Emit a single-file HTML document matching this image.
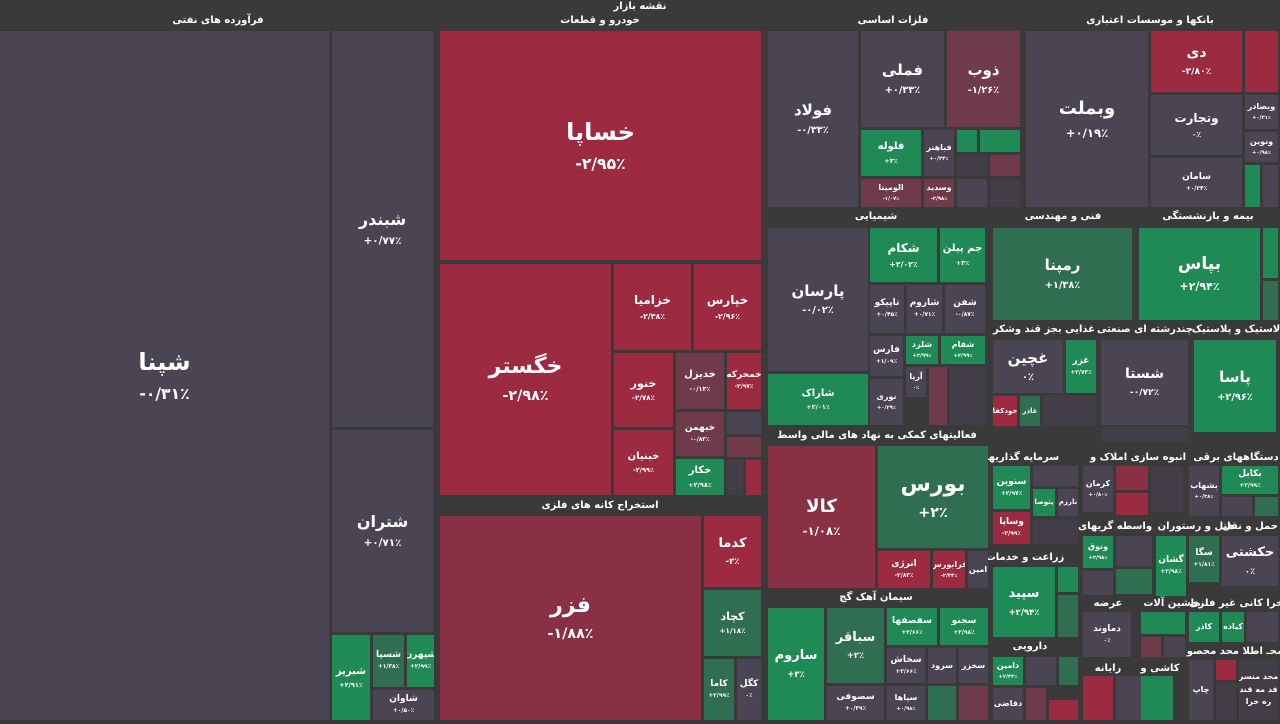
<!DOCTYPE html>
<html><head><meta charset="utf-8">
<style>
body{margin:0;width:1280px;height:724px;background:#3a3a3a;overflow:hidden;position:relative;font-family:"DejaVu Sans",sans-serif;color:#fff}
.c{position:absolute;display:flex;flex-direction:column;align-items:center;justify-content:center;overflow:hidden;font-weight:bold;line-height:1.25;text-align:center;white-space:nowrap}
.c b{display:block}
.c i{font-style:normal;display:block;font-size:0.65em;margin-top:.5em}
.G{background:#4b4553}.R{background:#9c2a40}.R2{background:#8a3044}.R3{background:#6f3a4a}.N{background:#1f8a55}.N2{background:#2f6e50}.D{background:#423d46}
.h{position:absolute;font-size:10px;font-weight:bold;color:#fff;white-space:nowrap;transform:translateX(-50%)}
</style></head><body>
<div class="h" style="left:640px;top:1px">نقشه بازار</div>
<div class="h" style="left:218px;top:15px">فرآورده های نفتی</div>
<div class="h" style="left:600px;top:15px">خودرو و قطعات</div>
<div class="h" style="left:893px;top:15px">فلزات اساسی</div>
<div class="h" style="left:1150px;top:15px">بانکها و موسسات اعتباری</div>
<div class="h" style="left:876px;top:211px">شیمیایی</div>
<div class="h" style="left:1063px;top:211px">فنی و مهندسی</div>
<div class="h" style="left:1208px;top:211px">بیمه و بازنشستگی</div>
<div class="h" style="left:1044px;top:324px">غذایی بجز قند وشکر</div>
<div class="h" style="left:1145px;top:324px">چندرشته ای صنعتی</div>
<div class="h" style="left:1236px;top:324px">لاستیک و پلاستیک</div>
<div class="h" style="left:600px;top:500px">استخراج کانه های فلزی</div>
<div class="h" style="left:877px;top:430px">فعالیتهای کمکی به نهاد های مالی واسط</div>
<div class="h" style="left:876px;top:592px">سیمان آهک گچ</div>
<div class="h" style="left:1022px;top:452px">سرمایه گذاریها</div>
<div class="h" style="left:1138px;top:452px">انبوه سازی املاک و</div>
<div class="h" style="left:1236px;top:452px">دستگاههای برقی</div>
<div class="h" style="left:1025px;top:552px">زراعت و خدمات</div>
<div class="h" style="left:1115px;top:521px">واسطه گریهای</div>
<div class="h" style="left:1196px;top:521px">هتل و رستوران</div>
<div class="h" style="left:1250px;top:521px">حمل و نقل</div>
<div class="h" style="left:1108px;top:598px">عرضه</div>
<div class="h" style="left:1172px;top:598px">ماشین آلات</div>
<div class="h" style="left:1245px;top:598px">استخرا کانی غیر فلزی</div>
<div class="h" style="left:1030px;top:641px">دارویی</div>
<div class="h" style="left:1108px;top:663px">رایانه</div>
<div class="h" style="left:1160px;top:663px">کاشی و</div>
<div class="h" style="left:1235px;top:646px">محـ اطلا محد محصو</div>

<!-- petroleum -->
<div class="c G" style="left:0;top:31px;width:329px;height:689px;font-size:24px"><b>شپنا</b><i>-۰/۳۱٪</i></div>
<div class="c G" style="left:332px;top:31px;width:101px;height:396px;font-size:16px"><b>شبندر</b><i>+۰/۷۷٪</i></div>
<div class="c G" style="left:332px;top:430px;width:101px;height:202px;font-size:16px"><b>شتران</b><i>+۰/۷۱٪</i></div>
<div class="c N" style="left:332px;top:635px;width:38px;height:85px;font-size:10px"><b>شبریز</b><i>+۲/۹۱٪</i></div>
<div class="c N2" style="left:373px;top:635px;width:31px;height:52px;font-size:9px"><b>شسپا</b><i>+۱/۳۸٪</i></div>
<div class="c N" style="left:407px;top:635px;width:27px;height:52px;font-size:9px"><b>شپهرن</b><i>+۲/۹۹٪</i></div>
<div class="c G" style="left:373px;top:690px;width:61px;height:30px;font-size:9px"><b>شاوان</b><i>+۰/۵۰٪</i></div>

<!-- auto -->
<div class="c R" style="left:440px;top:31px;width:321px;height:229px;font-size:24px"><b>خساپا</b><i>-۲/۹۵٪</i></div>
<div class="c R" style="left:440px;top:264px;width:171px;height:231px;font-size:22px"><b>خگستر</b><i>-۲/۹۸٪</i></div>
<div class="c R" style="left:614px;top:264px;width:77px;height:86px;font-size:12px"><b>خزامیا</b><i>-۲/۳۸٪</i></div>
<div class="c R" style="left:694px;top:264px;width:67px;height:86px;font-size:12px"><b>خپارس</b><i>-۲/۹۶٪</i></div>
<div class="c R" style="left:614px;top:353px;width:59px;height:74px;font-size:11px"><b>خنور</b><i>-۲/۷۸٪</i></div>
<div class="c R3" style="left:676px;top:353px;width:48px;height:56px;font-size:10px"><b>خدیزل</b><i>-۰/۱۳٪</i></div>
<div class="c R" style="left:727px;top:353px;width:34px;height:56px;font-size:9px"><b>خمحرکه</b><i>-۲/۹۷٪</i></div>
<div class="c R3" style="left:676px;top:412px;width:48px;height:44px;font-size:9px"><b>خبهمن</b><i>-۰/۸۳٪</i></div>
<div class="c R" style="left:614px;top:430px;width:59px;height:65px;font-size:10px"><b>خبنیان</b><i>-۲/۹۹٪</i></div>
<div class="c N" style="left:676px;top:459px;width:48px;height:36px;font-size:10px"><b>خکار</b><i>+۲/۹۸٪</i></div>
<div class="c G" style="left:727px;top:412px;width:34px;height:22px"></div>
<div class="c R3" style="left:727px;top:437px;width:34px;height:20px"></div>
<div class="c D" style="left:727px;top:460px;width:16px;height:35px"></div>
<div class="c R" style="left:746px;top:460px;width:15px;height:35px"></div>

<!-- mining -->
<div class="c R2" style="left:440px;top:516px;width:261px;height:204px;font-size:22px"><b>فزر</b><i>-۱/۸۸٪</i></div>
<div class="c R" style="left:704px;top:516px;width:57px;height:71px;font-size:13px"><b>کدما</b><i>-۳٪</i></div>
<div class="c N2" style="left:704px;top:590px;width:57px;height:66px;font-size:11px"><b>کچاد</b><i>+۱/۱۸٪</i></div>
<div class="c N2" style="left:704px;top:659px;width:30px;height:61px;font-size:9px"><b>کاما</b><i>+۲/۹۹٪</i></div>
<div class="c G" style="left:737px;top:659px;width:24px;height:61px;font-size:9px"><b>کگل</b><i>۰٪</i></div>

<!-- metals -->
<div class="c G" style="left:768px;top:31px;width:90px;height:176px;font-size:15px"><b>فولاد</b><i>-۰/۳۳٪</i></div>
<div class="c G" style="left:861px;top:31px;width:83px;height:96px;font-size:15px"><b>فملی</b><i>+۰/۳۳٪</i></div>
<div class="c R3" style="left:947px;top:31px;width:73px;height:96px;font-size:15px"><b>ذوب</b><i>-۱/۲۶٪</i></div>
<div class="c N" style="left:861px;top:130px;width:60px;height:46px;font-size:10px"><b>فلوله</b><i>+۳٪</i></div>
<div class="c G" style="left:924px;top:130px;width:30px;height:46px;font-size:8px"><b>فباهنر</b><i>+۰/۳۴٪</i></div>
<div class="c N" style="left:957px;top:130px;width:20px;height:22px"></div>
<div class="c N" style="left:980px;top:130px;width:40px;height:22px"></div>
<div class="c D" style="left:957px;top:155px;width:30px;height:21px"></div>
<div class="c R3" style="left:990px;top:155px;width:30px;height:21px"></div>
<div class="c R3" style="left:861px;top:179px;width:60px;height:28px;font-size:8px"><b>الومینا</b><i>-۱/۰۷٪</i></div>
<div class="c R3" style="left:924px;top:179px;width:30px;height:28px;font-size:8px"><b>وسدید</b><i>-۲/۹۸٪</i></div>
<div class="c G" style="left:957px;top:179px;width:30px;height:28px"></div>
<div class="c D" style="left:990px;top:179px;width:30px;height:28px"></div>

<!-- banks -->
<div class="c G" style="left:1026px;top:31px;width:122px;height:176px;font-size:18px"><b>وبملت</b><i>+۰/۱۹٪</i></div>
<div class="c R" style="left:1151px;top:31px;width:91px;height:61px;font-size:14px"><b>دی</b><i>-۲/۸۰٪</i></div>
<div class="c R" style="left:1245px;top:31px;width:33px;height:61px"></div>
<div class="c G" style="left:1151px;top:95px;width:91px;height:60px;font-size:12px"><b>وتجارت</b><i>۰٪</i></div>
<div class="c G" style="left:1245px;top:95px;width:33px;height:34px;font-size:8px"><b>وبصادر</b><i>+۰/۳۱٪</i></div>
<div class="c G" style="left:1245px;top:132px;width:33px;height:30px;font-size:8px"><b>ونوین</b><i>+۰/۹۸٪</i></div>
<div class="c G" style="left:1151px;top:158px;width:91px;height:49px;font-size:9px"><b>سامان</b><i>+۰/۲۴٪</i></div>
<div class="c N" style="left:1245px;top:165px;width:15px;height:42px"></div>
<div class="c G" style="left:1263px;top:165px;width:15px;height:42px"></div>

<!-- chemical -->
<div class="c G" style="left:768px;top:228px;width:100px;height:143px;font-size:15px"><b>پارسان</b><i>-۰/۰۲٪</i></div>
<div class="c N" style="left:870px;top:228px;width:67px;height:54px;font-size:12px"><b>شکام</b><i>+۲/۰۲٪</i></div>
<div class="c N" style="left:940px;top:228px;width:45px;height:54px;font-size:10px"><b>جم پیلن</b><i>+۳٪</i></div>
<div class="c G" style="left:870px;top:285px;width:34px;height:48px;font-size:9px"><b>تاپیکو</b><i>+۰/۴۵٪</i></div>
<div class="c G" style="left:907px;top:285px;width:35px;height:48px;font-size:9px"><b>شاروم</b><i>+۰/۷۱٪</i></div>
<div class="c G" style="left:945px;top:285px;width:40px;height:48px;font-size:9px"><b>شفن</b><i>-۰/۸۷٪</i></div>
<div class="c G" style="left:870px;top:336px;width:33px;height:40px;font-size:9px"><b>فارس</b><i>+۱/۰۹٪</i></div>
<div class="c N" style="left:906px;top:336px;width:32px;height:28px;font-size:8px"><b>شلرد</b><i>+۲/۹۹٪</i></div>
<div class="c N" style="left:941px;top:336px;width:44px;height:28px;font-size:8px"><b>شفام</b><i>+۲/۹۹٪</i></div>
<div class="c G" style="left:906px;top:367px;width:20px;height:30px;font-size:8px"><b>آریا</b><i>۰٪</i></div>
<div class="c R3" style="left:929px;top:367px;width:18px;height:58px"></div>
<div class="c D" style="left:950px;top:367px;width:35px;height:58px"></div>
<div class="c N" style="left:768px;top:374px;width:100px;height:51px;font-size:10px"><b>شاراک</b><i>+۲/۰۱٪</i></div>
<div class="c G" style="left:870px;top:379px;width:33px;height:46px;font-size:8px"><b>نوری</b><i>+۰/۲۹٪</i></div>

<!-- technical / insurance -->
<div class="c N2" style="left:993px;top:228px;width:139px;height:92px;font-size:15px"><b>رمپنا</b><i>+۱/۳۸٪</i></div>
<div class="c N" style="left:1139px;top:228px;width:121px;height:92px;font-size:17px"><b>بپاس</b><i>+۲/۹۴٪</i></div>
<div class="c N" style="left:1263px;top:228px;width:15px;height:50px"></div>
<div class="c N2" style="left:1263px;top:281px;width:15px;height:39px"></div>

<!-- food, multi, plastic -->
<div class="c G" style="left:993px;top:340px;width:70px;height:53px;font-size:15px"><b>غچین</b><i>۰٪</i></div>
<div class="c N" style="left:1066px;top:340px;width:30px;height:53px;font-size:9px"><b>غزر</b><i>+۲/۷۳٪</i></div>
<div class="c R" style="left:993px;top:396px;width:24px;height:30px;font-size:7px"><b>خودکفا</b></div>
<div class="c N2" style="left:1020px;top:396px;width:20px;height:30px;font-size:7px"><b>غاذر</b></div>
<div class="c D" style="left:1043px;top:396px;width:53px;height:30px"></div>
<div class="c G" style="left:1101px;top:340px;width:87px;height:85px;font-size:14px"><b>شستا</b><i>-۰/۷۲٪</i></div>
<div class="c N" style="left:1194px;top:340px;width:82px;height:92px;font-size:15px"><b>پاسا</b><i>+۲/۹۶٪</i></div>
<div class="c D" style="left:1101px;top:428px;width:87px;height:14px"></div>

<!-- auxiliary -->
<div class="c R2" style="left:768px;top:446px;width:107px;height:142px;font-size:18px"><b>کالا</b><i>-۱/۰۸٪</i></div>
<div class="c N2" style="left:878px;top:446px;width:110px;height:102px;font-size:22px"><b>بورس</b><i>+۲٪</i></div>
<div class="c R" style="left:878px;top:551px;width:52px;height:37px;font-size:9px"><b>انرژی</b><i>-۲/۸۳٪</i></div>
<div class="c R" style="left:933px;top:551px;width:32px;height:37px;font-size:8px"><b>فرابورس</b><i>-۲/۳۴٪</i></div>
<div class="c G" style="left:968px;top:551px;width:20px;height:37px;font-size:8px"><b>امین</b></div>

<!-- cement -->
<div class="c N" style="left:768px;top:608px;width:56px;height:112px;font-size:13px"><b>ساروم</b><i>+۳٪</i></div>
<div class="c N2" style="left:827px;top:608px;width:57px;height:75px;font-size:13px"><b>سباقر</b><i>+۲٪</i></div>
<div class="c N" style="left:887px;top:608px;width:50px;height:37px;font-size:9px"><b>سفصفها</b><i>+۲/۶۶٪</i></div>
<div class="c N" style="left:940px;top:608px;width:48px;height:37px;font-size:9px"><b>سجنو</b><i>+۲/۹۸٪</i></div>
<div class="c G" style="left:887px;top:648px;width:38px;height:35px;font-size:9px"><b>سخاش</b><i>+۲/۶۶٪</i></div>
<div class="c G" style="left:928px;top:648px;width:28px;height:35px;font-size:8px"><b>سرود</b></div>
<div class="c G" style="left:959px;top:648px;width:29px;height:35px;font-size:8px"><b>سخزر</b></div>
<div class="c G" style="left:827px;top:686px;width:57px;height:34px;font-size:9px"><b>سصوفی</b><i>+۰/۳۹٪</i></div>
<div class="c G" style="left:887px;top:686px;width:38px;height:34px;font-size:8px"><b>سپاها</b><i>+۰/۹۸٪</i></div>
<div class="c N2" style="left:928px;top:686px;width:28px;height:34px"></div>
<div class="c R3" style="left:959px;top:686px;width:29px;height:34px"></div>

<!-- lower right -->
<div class="c N" style="left:993px;top:466px;width:37px;height:43px;font-size:9px"><b>سنوین</b><i>+۲/۹۷٪</i></div>
<div class="c G" style="left:1033px;top:466px;width:45px;height:20px"></div>
<div class="c N" style="left:1033px;top:489px;width:22px;height:27px;font-size:7px"><b>پتوصا</b></div>
<div class="c G" style="left:1058px;top:489px;width:20px;height:27px;font-size:7px"><b>نارزم</b></div>
<div class="c R" style="left:993px;top:512px;width:37px;height:32px;font-size:9px"><b>وساپا</b><i>-۲/۹۹٪</i></div>
<div class="c D" style="left:1033px;top:519px;width:45px;height:25px"></div>
<div class="c N" style="left:993px;top:567px;width:62px;height:70px;font-size:13px"><b>سپید</b><i>+۲/۹۴٪</i></div>
<div class="c N" style="left:1058px;top:567px;width:20px;height:25px"></div>
<div class="c N2" style="left:1058px;top:595px;width:20px;height:42px"></div>
<div class="c N" style="left:993px;top:657px;width:30px;height:28px;font-size:8px"><b>دامین</b><i>+۲/۳۳٪</i></div>
<div class="c G" style="left:1026px;top:657px;width:30px;height:28px"></div>
<div class="c N2" style="left:1059px;top:657px;width:19px;height:28px"></div>
<div class="c G" style="left:993px;top:688px;width:30px;height:32px;font-size:8px"><b>دقاضی</b></div>
<div class="c R3" style="left:1026px;top:688px;width:20px;height:32px"></div>
<div class="c R" style="left:1049px;top:700px;width:29px;height:20px"></div>

<div class="c G" style="left:1083px;top:466px;width:30px;height:46px;font-size:8px"><b>کرمان</b><i>+۰/۸۰٪</i></div>
<div class="c R2" style="left:1116px;top:466px;width:32px;height:24px"></div>
<div class="c R" style="left:1116px;top:493px;width:32px;height:22px"></div>
<div class="c D" style="left:1151px;top:466px;width:32px;height:46px"></div>
<div class="c N" style="left:1083px;top:536px;width:30px;height:32px;font-size:8px"><b>ونوق</b><i>+۲/۹۸٪</i></div>
<div class="c G" style="left:1116px;top:536px;width:36px;height:30px"></div>
<div class="c N2" style="left:1116px;top:569px;width:36px;height:25px"></div>
<div class="c G" style="left:1083px;top:571px;width:30px;height:24px"></div>
<div class="c N" style="left:1156px;top:536px;width:30px;height:60px;font-size:9px"><b>گشان</b><i>+۲/۹۸٪</i></div>
<div class="c N2" style="left:1189px;top:536px;width:30px;height:46px;font-size:9px"><b>سگا</b><i>+۱/۸۱٪</i></div>
<div class="c G" style="left:1222px;top:536px;width:56px;height:50px;font-size:13px"><b>حکشتی</b><i>۰٪</i></div>
<div class="c G" style="left:1189px;top:466px;width:30px;height:50px;font-size:8px"><b>بشهاب</b><i>+۰/۳۸٪</i></div>
<div class="c N" style="left:1222px;top:466px;width:56px;height:28px;font-size:9px"><b>بکابل</b><i>+۲/۹۹٪</i></div>
<div class="c G" style="left:1222px;top:497px;width:30px;height:19px"></div>
<div class="c N2" style="left:1255px;top:497px;width:23px;height:19px"></div>
<div class="c G" style="left:1083px;top:612px;width:48px;height:45px;font-size:9px"><b>دماوند</b><i>۰٪</i></div>
<div class="c N" style="left:1141px;top:612px;width:44px;height:22px"></div>
<div class="c R3" style="left:1141px;top:637px;width:20px;height:20px"></div>
<div class="c G" style="left:1164px;top:637px;width:21px;height:20px"></div>
<div class="c N" style="left:1189px;top:612px;width:30px;height:30px;font-size:8px"><b>کاذر</b></div>
<div class="c N" style="left:1222px;top:612px;width:22px;height:30px;font-size:8px"><b>کیاده</b></div>
<div class="c G" style="left:1247px;top:612px;width:31px;height:30px"></div>
<div class="c R" style="left:1083px;top:676px;width:30px;height:44px"></div>
<div class="c G" style="left:1116px;top:676px;width:25px;height:44px"></div>
<div class="c N" style="left:1141px;top:676px;width:32px;height:44px"></div>
<div class="c G" style="left:1189px;top:660px;width:24px;height:60px;font-size:8px"><b>چاپ</b></div>
<div class="c R" style="left:1216px;top:660px;width:20px;height:20px"></div>
<div class="c D" style="left:1216px;top:683px;width:20px;height:37px"></div>
<div class="c D" style="left:1239px;top:660px;width:39px;height:60px;font-size:8px;line-height:1.6">محد منسر<br>فد مه قند<br>ره خرا</div>
</body></html>
